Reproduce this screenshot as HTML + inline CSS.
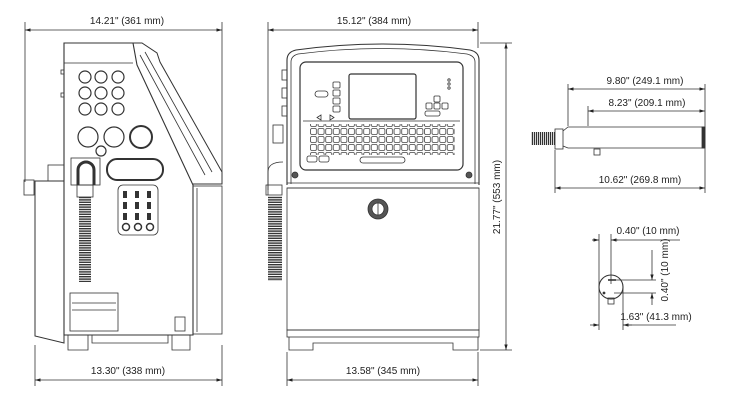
<!DOCTYPE html>
<html><head><meta charset="utf-8"><style>
html,body{margin:0;padding:0;background:#fff;}
svg{display:block;}
text{font-family:"Liberation Sans",sans-serif;font-size:10px;fill:#222;}
</style></head><body>
<svg width="741" height="408" viewBox="0 0 741 408" xmlns="http://www.w3.org/2000/svg">
<defs>
<marker id="a" viewBox="0 0 10 10" refX="10" refY="5" markerWidth="7" markerHeight="7" orient="auto-start-reverse"><path d="M0,2 L10,5 L0,8 z" fill="#222"/></marker>
<pattern id="hose" width="14" height="2.4" patternUnits="userSpaceOnUse"><rect width="14" height="1.4" fill="#333"/></pattern>
<pattern id="keys" x="310" y="0" width="7.6" height="8" patternUnits="userSpaceOnUse"><rect x="0.5" y="0.5" width="6" height="6" rx="1.5" fill="#fff" stroke="#444" stroke-width="0.8"/></pattern>
<pattern id="thr" width="2" height="14" patternUnits="userSpaceOnUse"><rect width="1.2" height="14" fill="#333"/></pattern>
</defs>
<g stroke="#333" stroke-width="0.8" fill="none">
<!-- LEFT VIEW dims -->
<line x1="25" y1="22" x2="25" y2="182"/><line x1="222" y1="22" x2="222" y2="175"/>
<line x1="25" y1="30" x2="222" y2="30" marker-start="url(#a)" marker-end="url(#a)"/>
<line x1="35" y1="345" x2="35" y2="386"/><line x1="222" y1="345" x2="222" y2="386"/>
<line x1="35" y1="380" x2="222" y2="380" marker-start="url(#a)" marker-end="url(#a)"/>
<!-- left body -->
<path d="M64,43 H133 L137,65 L193,185 V335 H64 Z" stroke-width="1.1"/>
<line x1="64" y1="63" x2="133" y2="63"/>
<path d="M133,43 L142,43 L157,53 L160,62 L222,172 V184 H193" stroke-width="1"/>
<path d="M140,55 L205,175" /><path d="M145,52 L212,172"/>
<rect x="193" y="186" width="29" height="148"/>
<line x1="197" y1="188" x2="197" y2="332"/>
<path d="M35,181 H64 V343 L35,336 Z" stroke-width="1"/>
<rect x="24" y="180" width="10" height="15"/>
<rect x="48" y="165" width="16" height="16"/>
<rect x="61" y="70" width="3" height="4"/><rect x="61" y="93" width="3" height="4"/>
<g stroke-width="1.2">
<circle cx="85" cy="77" r="6"/><circle cx="101" cy="77" r="6"/><circle cx="118" cy="77" r="6"/>
<circle cx="85" cy="93" r="6"/><circle cx="101" cy="93" r="6"/><circle cx="118" cy="93" r="6"/>
<circle cx="85" cy="109" r="6"/><circle cx="101" cy="109" r="6"/><circle cx="118" cy="109" r="6"/>
<circle cx="88" cy="137" r="10"/><circle cx="114" cy="137" r="10"/><circle cx="141" cy="137" r="11" stroke-width="2"/>
<circle cx="101" cy="151" r="5"/>
</g>
<rect x="71" y="158" width="29" height="27"/>
<path d="M78,185 V170 A8,8 0 0 1 94,170 V185" stroke-width="3"/>
<rect x="77" y="185" width="16" height="12"/>
<rect x="79" y="197" width="12" height="85" fill="url(#hose)" stroke="none"/>
<rect x="107" y="159" width="56" height="21" rx="10" stroke-width="2"/>
<rect x="118" y="185" width="40" height="50" rx="5"/>
<g fill="#333" stroke="none">
<rect x="123" y="191" width="4" height="7"/><rect x="135" y="191" width="4" height="7"/><rect x="147" y="191" width="4" height="7"/>
<rect x="123" y="202" width="4" height="7"/><rect x="135" y="202" width="4" height="7"/><rect x="147" y="202" width="4" height="7"/>
<rect x="123" y="213" width="4" height="7"/><rect x="135" y="213" width="4" height="7"/><rect x="147" y="213" width="4" height="7"/>
</g>
<circle cx="126" cy="227" r="3.5" stroke-width="1.5"/><circle cx="138" cy="227" r="3.5" stroke-width="1.5"/><circle cx="150" cy="227" r="3.5" stroke-width="1.5"/>
<rect x="70" y="293" width="48" height="38"/>
<line x1="72" y1="303" x2="116" y2="303"/><line x1="72" y1="310" x2="116" y2="310"/>
<rect x="175" y="317" width="10" height="14"/>
<path d="M68,335 V350 H88 V335 M172,335 V350 H190 V335 M92,335 V343 H168 V335"/>
<!-- MIDDLE VIEW dims -->
<line x1="268" y1="22" x2="268" y2="195"/><line x1="478" y1="22" x2="478" y2="48"/>
<line x1="268" y1="30" x2="478" y2="30" marker-start="url(#a)" marker-end="url(#a)"/>
<line x1="287" y1="352" x2="287" y2="386"/><line x1="478" y1="352" x2="478" y2="386"/>
<line x1="287" y1="380" x2="478" y2="380" marker-start="url(#a)" marker-end="url(#a)"/>
<line x1="480" y1="43" x2="512" y2="43"/><line x1="480" y1="350" x2="512" y2="350"/>
<line x1="506" y1="43" x2="506" y2="350" marker-start="url(#a)" marker-end="url(#a)"/>
<!-- middle body -->
<path d="M287,185 V60 Q287,52 296,50 Q383,38 470,50 Q479,52 479,60 V185" stroke-width="1.1"/>
<path d="M291,184 V62 Q291,56 298,54 Q383,43 467,54 Q475,56 475,62 V184"/>
<rect x="300" y="62" width="163" height="108" rx="6" stroke-width="1.2"/>
<rect x="349" y="74" width="67" height="45" rx="2" stroke-width="1.2"/>
<line x1="303" y1="121" x2="460" y2="121"/>
<rect x="315" y="91" width="13" height="6" rx="3"/>
<rect x="333" y="82" width="7" height="6" rx="1"/><rect x="333" y="90" width="7" height="6" rx="1"/><rect x="333" y="98" width="7" height="6" rx="1"/><rect x="333" y="106" width="7" height="6" rx="1"/>
<path d="M321,115 L317,117.5 L321,120 Z M330,115 L334,117.5 L330,120 Z"/>
<rect x="434" y="96" width="6" height="6" rx="1"/><rect x="426" y="103" width="6" height="6" rx="1"/><rect x="434" y="103" width="6" height="6" rx="1"/><rect x="442" y="103" width="6" height="6" rx="1"/>
<rect x="425" y="111" width="15" height="5" rx="2"/>
<circle cx="449" cy="80" r="1.2"/><circle cx="449" cy="84" r="1.2"/><circle cx="449" cy="88" r="1.2"/>
<rect x="310" y="124" width="145" height="31" fill="url(#keys)" stroke="none"/>
<rect x="307" y="156" width="10" height="6" rx="2"/><rect x="319" y="156" width="10" height="6" rx="2"/>
<rect x="360" y="157" width="45" height="6" rx="3"/>
<circle cx="295" cy="175" r="3" fill="#555"/><circle cx="469" cy="175" r="3" fill="#555"/>
<line x1="287" y1="183" x2="479" y2="183"/><line x1="287" y1="188" x2="479" y2="188"/>
<rect x="287" y="188" width="192" height="142"/>
<circle cx="378" cy="209" r="10" fill="#555"/><circle cx="378" cy="209" r="6" fill="#fff"/>
<line x1="378" y1="203" x2="378" y2="215"/>
<rect x="287" y="330" width="192" height="7"/>
<path d="M289,337 V350 H313 V343 H453 V350 H478 V337"/>
<rect x="282" y="70" width="5" height="10"/><rect x="282" y="88" width="5" height="10"/><rect x="282" y="106" width="5" height="10"/>
<rect x="273" y="125" width="10" height="18"/>
<path d="M268,190 V172 Q268,162 283,162"/>
<rect x="266" y="185" width="16" height="10"/>
<rect x="268" y="196" width="14" height="85" fill="url(#hose)" stroke="none"/>
<!-- RIGHT: rod -->
<line x1="568" y1="84" x2="568" y2="126"/><line x1="588" y1="106" x2="588" y2="126"/><line x1="705" y1="84" x2="705" y2="193"/><line x1="555" y1="150" x2="555" y2="193"/>
<line x1="568" y1="89" x2="705" y2="89" marker-start="url(#a)" marker-end="url(#a)"/>
<line x1="588" y1="111" x2="705" y2="111" marker-start="url(#a)" marker-end="url(#a)"/>
<line x1="555" y1="188" x2="705" y2="188" marker-start="url(#a)" marker-end="url(#a)"/>
<rect x="531" y="132" width="24" height="13" fill="url(#thr)" stroke="none"/>
<rect x="555" y="129" width="8" height="20"/>
<path d="M563,131 L568,127 H704 V148 H568 L563,146"/>
<rect x="702" y="127" width="3" height="21" fill="#333"/>
<rect x="594" y="149" width="6" height="6"/>
<!-- circle end view -->
<circle cx="611" cy="287" r="12" stroke-width="1.1"/>
<rect x="608" y="298" width="6" height="6"/>
<line x1="608" y1="280" x2="616" y2="280" stroke-width="1.6"/>
<circle cx="604" cy="293" r="1" fill="#333"/>
<line x1="599" y1="234" x2="599" y2="330"/><line x1="611" y1="234" x2="611" y2="284"/><line x1="623" y1="287" x2="623" y2="330"/>
<line x1="592" y1="240" x2="599" y2="240" marker-end="url(#a)"/><line x1="618" y1="240" x2="611" y2="240" marker-end="url(#a)"/><line x1="611" y1="240" x2="680" y2="240"/>
<line x1="616" y1="280" x2="656" y2="280"/><line x1="614" y1="293" x2="656" y2="293"/>
<line x1="652" y1="250" x2="652" y2="280" marker-end="url(#a)"/><line x1="652" y1="305" x2="652" y2="293" marker-end="url(#a)"/>
<line x1="590" y1="325" x2="599" y2="325" marker-end="url(#a)"/><line x1="632" y1="325" x2="623" y2="325" marker-end="url(#a)"/><line x1="623" y1="325" x2="676" y2="325"/>
</g>
<text x="127" y="24" text-anchor="middle">14.21" (361 mm)</text>
<text x="128" y="374" text-anchor="middle">13.30" (338 mm)</text>
<text x="374" y="24" text-anchor="middle">15.12" (384 mm)</text>
<text x="383" y="374" text-anchor="middle">13.58" (345 mm)</text>
<text x="0" y="0" text-anchor="middle" transform="translate(500,197) rotate(-90)">21.77" (553 mm)</text>
<text x="645" y="84" text-anchor="middle">9.80" (249.1 mm)</text>
<text x="647" y="106" text-anchor="middle">8.23" (209.1 mm)</text>
<text x="640" y="183" text-anchor="middle">10.62" (269.8 mm)</text>
<text x="648" y="234" text-anchor="middle">0.40" (10 mm)</text>
<text x="0" y="0" text-anchor="middle" transform="translate(668,270) rotate(-90)">0.40" (10 mm)</text>
<text x="656" y="320" text-anchor="middle">1.63" (41.3 mm)</text>
</svg>
</body></html>
